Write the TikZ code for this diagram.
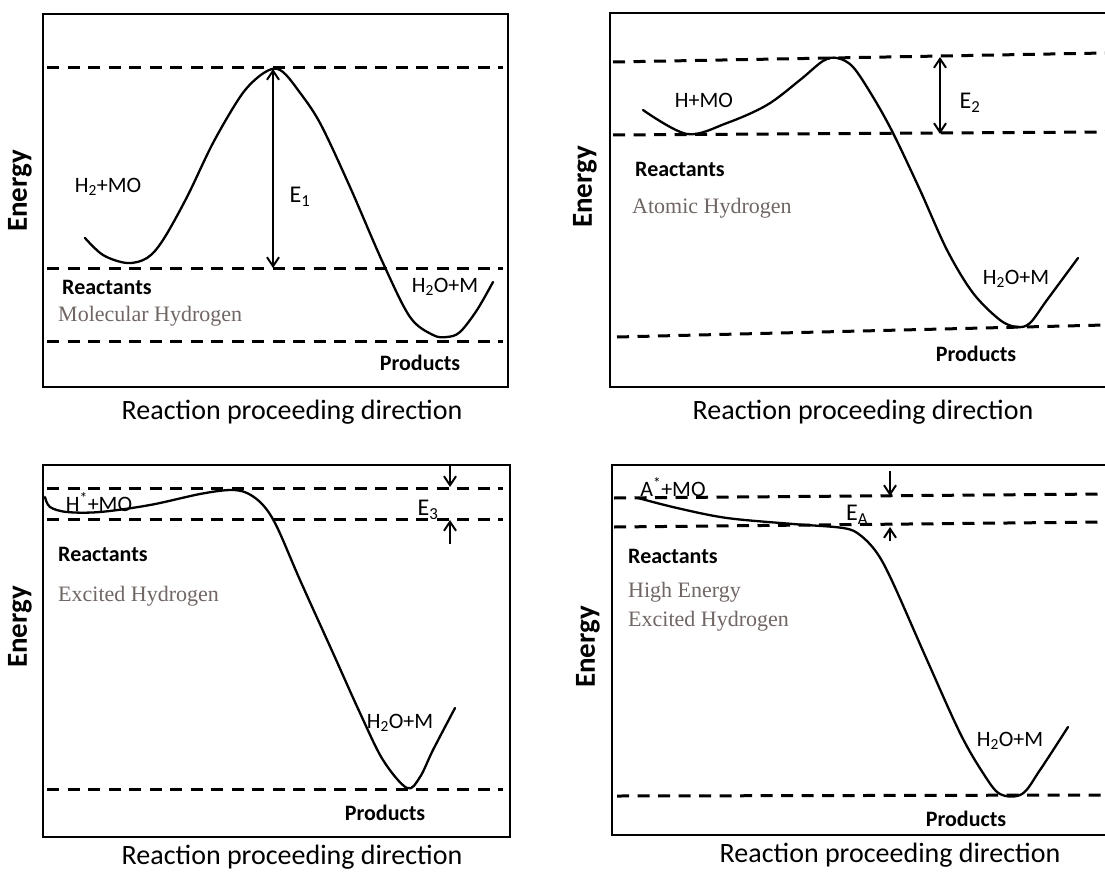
\documentclass[tikz,border=0pt]{standalone}
\usepackage{fontspec}
\setmainfont{Carlito}
\newfontfamily\greyserif{Liberation Serif}
\usetikzlibrary{arrows.meta}
\definecolor{greytxt}{RGB}{112,102,100}
\begin{document}
\begin{tikzpicture}[x=1pt,y=-1pt,
  frame/.style={line width=2.3pt},
  level/.style={line width=3pt, dash pattern=on 12pt off 8.5pt},
  curve/.style={line width=2.3pt, line join=round, line cap=round},
  lbl/.style={font=\fontsize{22}{24}\selectfont, inner sep=0pt},
  leftlbl/.style={font=\bfseries\fontsize{22}{24}\selectfont, inner sep=0pt, anchor=west},
  prodlbl/.style={font=\bfseries\fontsize{22}{24}\selectfont, inner sep=0pt},
  grey/.style={font=\greyserif\fontsize{22}{24}\selectfont, text=greytxt, anchor=west, inner sep=0pt},
  axis/.style={font=\fontsize{28}{30}\selectfont, inner sep=0pt},
  elab/.style={font=\fontsize{24}{26}\selectfont, inner sep=0pt},
  yaxis/.style={font=\bfseries\fontsize{29}{31}\selectfont, rotate=90, inner sep=0pt},
  gap/.style={line width=2pt, -{Straight Barb[length=9pt,width=12pt]}},
  gapboth/.style={line width=2pt, {Straight Barb[length=9pt,width=12pt]}-{Straight Barb[length=9pt,width=12pt]}}
]
\useasboundingbox (0,0) rectangle (1105,880);
\fill[white] (0,0) rectangle (1105,880);

% ---------------- Panel 1 ----------------
\draw[frame] (43,14) rectangle (508,387);
\draw[level] (47,68) -- (503,68);
\draw[level] (47,268) -- (503,268);
\draw[level] (47,341) -- (503,341);
\draw[curve] plot[smooth, tension=0.55] coordinates {(85,238) (103,255) (127,263) (147,258) (163,240) (187,197) (213,143) (240,97) (257,78) (272,69) (283,72) (298,90) (320,123) (350,187) (383,263) (410,317) (433,335) (447,337) (460,332) (477,310) (493,282)};
\coordinate (t1) at (273,69);
\coordinate (b1) at (273,268);
\draw[gapboth] (t1) -- (b1);
\node[yaxis] (en1) at (20,191) {Energy};
\node[lbl] (r1) at (108,187) {H\textsubscript{2}+MO};
\node[elab] (e1) at (300,197) {E\textsubscript{1}};
\node[leftlbl] (re1) at (62,287) {Reactants};
\node[grey] (g1) at (58,316) {Molecular Hydrogen};
\node[lbl] (p1) at (445,287) {H\textsubscript{2}O+M};
\node[prodlbl] (pr1) at (420,363) {Products};
\node[axis] (ax1) at (292,412) {Reaction proceeding direction};

% ---------------- Panel 2 ----------------
\draw[frame] (1105,13) -- (610,13) -- (610,387) -- (1105,387);
\draw[level] (613,62) -- (1105,53);
\draw[level] (613,135) -- (1105,132);
\draw[level] (617,337) -- (1105,325);
\draw[curve] plot[smooth, tension=0.55] coordinates {(643,110) (687,134) (727,123) (767,105) (800,80) (823,61) (837,58) (853,67) (873,97) (893,133) (920,190) (947,250) (973,293) (1000,320) (1017,327) (1030,323) (1047,300) (1078,258)};
\coordinate (t2) at (940,57);
\coordinate (b2) at (940,134);
\draw[gapboth] (t2) -- (b2);
\node[yaxis] (en2) at (585,187) {Energy};
\node[lbl] (r2) at (704,100) {H+MO};
\node[elab] (e2) at (970,103) {E\textsubscript{2}};
\node[leftlbl] (re2) at (635,169) {Reactants};
\node[grey] (g2) at (632,208) {Atomic Hydrogen};
\node[lbl] (p2) at (1016,279) {H\textsubscript{2}O+M};
\node[prodlbl] (pr2) at (976,354) {Products};
\node[axis] (ax2) at (863,412) {Reaction proceeding direction};

% ---------------- Panel 3 ----------------
\draw[frame] (43,465) rectangle (510,837);
\draw[level] (47,488) -- (503,488);
\draw[level] (47,519) -- (503,519);
\draw[level] (47,789) -- (503,789);
\draw[curve] plot[smooth, tension=0.55] coordinates {(45,497) (50,507) (67,512) (100,512) (150,505) (200,494) (230,490) (247,493) (263,505) (277,527) (300,580) (333,653) (360,713) (383,760) (407,788) (420,777) (433,750) (455,708)};
\coordinate (a3s) at (450,466);
\coordinate (a3e) at (450,487);
\coordinate (b3s) at (450,544);
\coordinate (b3e) at (450,520);
\draw[gap] (a3s) -- (a3e);
\draw[gap] (b3s) -- (b3e);
\node[yaxis] (en3) at (20,627) {Energy};
\node[lbl] (r3) at (99,502) {H\textsuperscript{*}+MO};
\node[elab] (e3) at (428,510) {E\textsubscript{3}};
\node[leftlbl] (re3) at (58,554) {Reactants};
\node[grey] (g3) at (58,596) {Excited Hydrogen};
\node[lbl] (p3) at (400,723) {H\textsubscript{2}O+M};
\node[prodlbl] (pr3) at (385,813) {Products};
\node[axis] (ax3) at (292,857) {Reaction proceeding direction};

% ---------------- Panel 4 ----------------
\draw[frame] (1105,465) -- (612,465) -- (612,835) -- (1105,835);
\draw[level] (614,498) -- (1105,494);
\draw[level] (614,527) -- (1105,522);
\draw[level] (617,796) -- (1105,795);
\draw[curve] plot[smooth, tension=0.55] coordinates {(638,498) (677,508) (727,518) (793,524) (843,528) (860,535) (877,553) (893,583) (927,660) (960,733) (983,773) (1000,794) (1022,794) (1040,770) (1068,727)};
\coordinate (a4s) at (890,471);
\coordinate (a4e) at (890,496);
\coordinate (b4s) at (890,541);
\coordinate (b4e) at (890,527);
\draw[gap] (a4s) -- (a4e);
\draw[gap] (b4s) -- (b4e);
\node[yaxis] (en4) at (588,647) {Energy};
\node[lbl] (r4) at (673,487) {A\textsuperscript{*}+MO};
\node[elab] (e4) at (857,515) {E\textsubscript{A}};
\node[leftlbl] (re4) at (628,556) {Reactants};
\node[grey] (g4a) at (628,592) {High Energy};
\node[grey] (g4b) at (628,621) {Excited Hydrogen};
\node[lbl] (p4) at (1010,741) {H\textsubscript{2}O+M};
\node[prodlbl] (pr4) at (966,819) {Products};
\node[axis] (ax4) at (890,855) {Reaction proceeding direction};
\end{tikzpicture}
\end{document}
